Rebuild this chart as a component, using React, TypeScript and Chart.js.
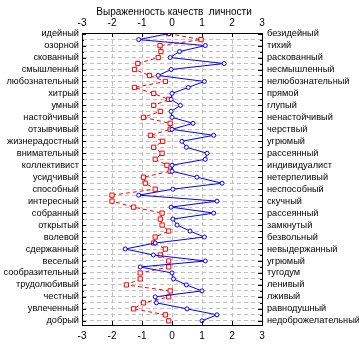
import React, { useEffect, useRef } from 'react';
import { Chart, registerables } from 'chart.js';
Chart.register(...registerables);

const titleText = 'Выраженность качеств  личности';
const xTicks = [-3, -2, -1, 0, 1, 2, 3];
const leftLabels = [
  'идейный', 'озорной', 'скованный', 'смышленный', 'любознательный', 'хитрый', 'умный',
  'настойчивый', 'отзывчивый', 'жизнерадостный', 'внимательный', 'коллективист', 'усидчивый',
  'способный', 'интересный', 'собранный', 'открытый', 'волевой', 'сдержанный', 'веселый',
  'сообразительный', 'трудолюбивый', 'честный', 'увлеченный', 'добрый',
];
const rightLabels = [
  'безидейный', 'тихий', 'раскованный', 'несмышленный', 'нелюбознательный', 'прямой', 'глупый',
  'ненастойчивый', 'черствый', 'угрюмый', 'рассеянный', 'индивидуалист', 'нетерпеливый',
  'неспособный', 'скучный', 'рассеянный', 'замкнутый', 'безвольный', 'невыдержанный', 'угрюмый',
  'тугодум', 'ленивый', 'лживый', 'равнодушный', 'недоброжелательный',
];
const blueValues = [
  -0.1, -1.11, 1.11, 0.25, -0.06, 1.74, -0.03, -0.46, 1.08, 0.54,
  0.0, -0.03, 0.28, -0.03, 0.0, 0.7, 0.0, 1.39, 0.33, 0.48,
  1.17, 1.11, 0.0, 0.0, 0.83, 1.67, 0.03, -1.11, 1.5, -0.03,
  1.39, 0.03, 0.17, 0.6, 1.08, -0.56, -1.56, -0.62, 1.11, -1.06,
  0.0, 0.05, 0.48, 1.0, -0.56, -0.52, 0.5, 1.5, 1.0,
];
const redValues = [
  -0.12, 0.97, -0.4, -0.37, -0.46, -1.14, -1.25, -0.75, -0.22, -1.25,
  -0.61, -0.11, -0.61, -0.39, -0.95, -0.06, -0.06, -0.72, -0.31, -0.61,
  -0.33, -0.56, -0.17, -0.06, -0.95, -0.89, -0.56, -2.0, -2.0, -1.28,
  -0.33, -0.39, -0.33, -0.11, -0.56, -0.61, -0.22, -0.39, -0.11, -0.11,
  -1.06, -1.06, -1.52, -0.06, -0.11, -0.95, -1.28, -0.22, -0.11,
];

const FONT = "'Liberation Sans', Arial, sans-serif";

export default function App() {
  const ref = useRef<HTMLCanvasElement>(null);
  useEffect(() => {
    document.body.style.margin = '0';
    const n = blueValues.length;
    const indices = Array.from({ length: n }, (_, i) => i);
    const framePlugin = {
      id: 'frame',
      afterDraw(chart: any) {
        const { ctx, chartArea: a, scales } = chart;
        const y = scales.y;
        const x = scales.x;
        ctx.save();
        ctx.strokeStyle = '#000';
        ctx.lineWidth = 1;
        ctx.setLineDash([]);
        ctx.beginPath();
        for (const i of indices) {
          const py = Math.round(y.getPixelForValue(i)) + 0.5;
          const len = i % 2 === 0 ? 4 : 2;
          ctx.moveTo(a.left, py);
          ctx.lineTo(a.left + len, py);
          ctx.moveTo(a.right, py);
          ctx.lineTo(a.right - len, py);
        }
        for (const t of xTicks) {
          const px = Math.round(x.getPixelForValue(t)) + 0.5;
          ctx.moveTo(px, a.top);
          ctx.lineTo(px, a.top + 4);
          ctx.moveTo(px, a.bottom);
          ctx.lineTo(px, a.bottom - 4);
        }
        ctx.stroke();
        ctx.strokeRect(Math.round(a.left) + 0.5, Math.round(a.top) + 0.5, Math.round(a.right - a.left), Math.round(a.bottom - a.top));
        ctx.fillStyle = '#000';
        ctx.font = `10px ${FONT}`;
        ctx.textAlign = 'center';
        ctx.textBaseline = 'middle';
        ctx.fillText(titleText, (a.left + a.right) / 2 + 2, 12);
        ctx.restore();
      },
    };

    const gridCommon = { color: '#c0c0c0', drawTicks: false, lineWidth: 1 };
    const borderCommon = { display: true, color: '#000', dash: [4, 3] };
    const tickFont = { family: FONT, size: 10 };
    const labelFont = { family: FONT, size: 9.2 };

    const chart = new Chart(ref.current as HTMLCanvasElement, {
      type: 'line',
      data: {
        datasets: [
          {
            label: 'blue',
            data: blueValues.map((v, i) => ({ x: v, y: i })),
            borderColor: '#0000ff',
            borderWidth: 1,
            pointStyle: 'circle',
            pointRadius: 2,
            pointBorderWidth: 1,
            pointBackgroundColor: '#ffffff',
            pointBorderColor: '#0000ff',
            tension: 0,
          },
          {
            label: 'red',
            data: redValues.map((v, i) => ({ x: v, y: i })),
            borderColor: '#ff0000',
            borderWidth: 1,
            borderDash: [4, 3],
            pointStyle: 'rect',
            pointRadius: 3,
            pointBorderWidth: 1,
            pointBackgroundColor: '#ffffff',
            pointBorderColor: '#ff0000',
            tension: 0,
          },
        ],
      },
      options: {
        animation: false,
        responsive: false,
        maintainAspectRatio: false,
        layout: { padding: 0 },
        plugins: { legend: { display: false }, tooltip: { enabled: false }, title: { display: false } },
        scales: {
          x: {
            type: 'linear', position: 'bottom', min: -3, max: 3,
            afterBuildTicks: (s: any) => { s.ticks = xTicks.map((v) => ({ value: v })); },
            ticks: { font: tickFont, color: '#000', padding: 5, autoSkip: false, maxRotation: 0 },
            grid: gridCommon, border: borderCommon,
            afterFit: (s: any) => { s.height = 21; },
          },
          x2: {
            type: 'linear', position: 'top', min: -3, max: 3,
            afterBuildTicks: (s: any) => { s.ticks = xTicks.map((v) => ({ value: v })); },
            ticks: { font: tickFont, color: '#000', padding: 4, autoSkip: false, maxRotation: 0 },
            grid: { display: false, drawTicks: false }, border: { display: false },
            afterFit: (s: any) => { s.height = 33; },
          },
          y: {
            type: 'linear', position: 'left', reverse: true, min: -0.1, max: 48.7,
            afterBuildTicks: (s: any) => { s.ticks = indices.map((v) => ({ value: v })); },
            ticks: {
              font: labelFont, color: '#000', padding: 3, autoSkip: false,
              callback: (v: any) => (v % 2 === 0 ? leftLabels[v / 2] : ''),
            },
            grid: gridCommon, border: borderCommon,
            afterFit: (s: any) => { s.width = 82; },
          },
          y2: {
            type: 'linear', position: 'right', reverse: true, min: -0.1, max: 48.7,
            afterBuildTicks: (s: any) => { s.ticks = indices.map((v) => ({ value: v })); },
            ticks: {
              font: labelFont, color: '#000', padding: 5, autoSkip: false,
              callback: (v: any) => (v % 2 === 0 ? rightLabels[v / 2] : ''),
            },
            grid: { display: false, drawTicks: false }, border: { display: false },
            afterFit: (s: any) => { s.width = 97; },
          },
        },
      } as any,
      plugins: [framePlugin],
    });
    return () => chart.destroy();
  }, []);

  return (
    <div style={{ position: 'absolute', left: 0, top: 0, width: 359, height: 346 }}>
      <canvas ref={ref} width={359} height={346} style={{ width: 359, height: 346 }} />
    </div>
  );
}
